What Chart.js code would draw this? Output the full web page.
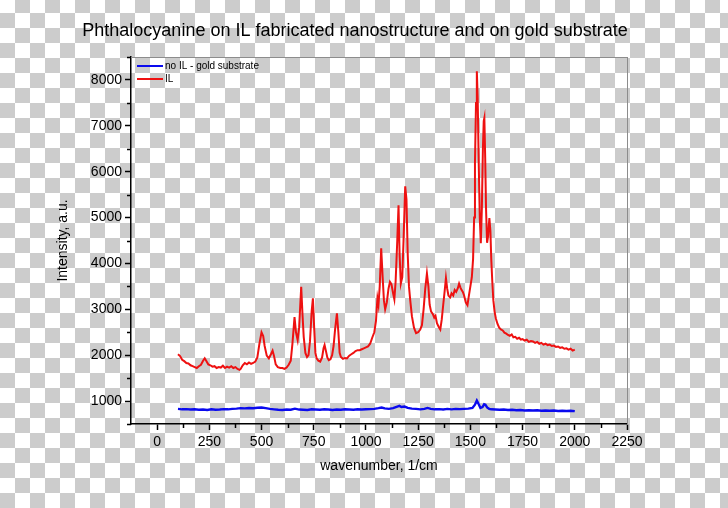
<!DOCTYPE html>
<html>
<head>
  <script src="https://cdn.jsdelivr.net/npm/chart.js@4.4.0/dist/chart.umd.min.js"></script>
  <style>
    body {
      margin: 0;
      background: conic-gradient(#cccccc 0 25%, #ffffff 0 50%, #cccccc 0 75%, #ffffff 0) 0 -2px / 30px 30px;
    }
    canvas { display: block; }
  </style>
</head>
<body>
  <canvas id="chart" width="728" height="508"></canvas>

  <script>
    // wavenumber (1/cm) and intensity for the IL sample
    var ilWave = [100, 110, 120, 130, 140, 150, 160, 170, 180, 190, 200, 210, 220, 228, 235, 245, 255, 265, 275, 285,
      295, 305, 315, 325, 335, 345, 355, 365, 375, 385, 395, 400, 410, 420, 430, 440, 450, 460, 470, 480,
      490, 500, 508, 515, 525, 535, 545, 553, 560, 568, 578, 590, 600, 610, 620, 630, 640, 648, 658, 665,
      673, 680, 690, 696, 702, 710, 718, 725, 732, 740, 746, 752, 758, 764, 772, 781, 790, 797, 802, 808,
      815, 822, 830, 838, 845, 852, 861, 868, 874, 880, 890, 900, 909, 920, 930, 940, 950, 960, 970, 980,
      990, 1000, 1010, 1020, 1030, 1040, 1048, 1055, 1060, 1066, 1073, 1080, 1086, 1092, 1100, 1108, 1115, 1122, 1130, 1136,
      1142, 1150, 1156, 1161, 1167, 1174, 1180, 1188, 1194, 1200, 1206, 1212, 1220, 1230, 1240, 1250, 1260, 1268, 1276, 1284,
      1292, 1299, 1305, 1312, 1320, 1327, 1333, 1340, 1348, 1356, 1363, 1370, 1377, 1383, 1389, 1395, 1403, 1410, 1418, 1425,
      1432, 1440, 1446, 1452, 1458, 1464, 1470, 1478, 1486, 1493, 1500, 1507, 1513, 1518, 1522, 1527, 1531, 1535, 1540, 1545,
      1550, 1555, 1560, 1564, 1567, 1571, 1575, 1580, 1585, 1591, 1596, 1600, 1605, 1610, 1616, 1622, 1630, 1638, 1646, 1655,
      1663, 1672, 1680, 1689, 1698, 1706, 1715, 1724, 1733, 1742, 1750, 1760, 1770, 1780, 1790, 1800, 1810, 1820, 1830, 1840,
      1850, 1860, 1870, 1880, 1890, 1900, 1910, 1920, 1930, 1940, 1950, 1960, 1970, 1980, 1990, 2000];
    var ilIntensity = [2020, 1980, 1900, 1870, 1830, 1820, 1780, 1760, 1740, 1720, 1760, 1790, 1880, 1930, 1880, 1800, 1780, 1750, 1760, 1720,
      1740, 1730, 1770, 1720, 1750, 1730, 1760, 1720, 1740, 1700, 1680, 1700, 1780, 1830, 1800, 1840, 1810, 1830, 1860, 1950,
      2250, 2500, 2420, 2200, 1990, 1930, 2020, 2100, 1980, 1800, 1740, 1720, 1720, 1700, 1730, 1790, 1880, 2250, 2830, 2500,
      2330, 2600, 3490, 2900, 2400, 2050, 1960, 2000, 2300, 2950, 3240, 2600, 2050, 1930, 1880, 1860, 1950, 2150, 2220, 2100,
      1950, 1890, 1910, 2000, 2200, 2550, 2910, 2500, 2050, 1960, 1920, 1940, 1930, 1990, 2020, 2050, 2090, 2110, 2110, 2130,
      2150, 2170, 2190, 2250, 2380, 2500, 2750, 3240, 3100, 3500, 4330, 3700, 3200, 3000, 3150, 3450, 3600, 3550, 3350, 3220,
      3600, 4500, 5270, 4200, 3560, 3700, 4500, 5680, 5400, 4200, 3500, 3200, 2850, 2600, 2480, 2500, 2560, 2650, 3000, 3450,
      3780, 3500, 3100, 2950, 2900, 2820, 2860, 2700, 2620, 2560, 2780, 3100, 3400, 3680, 3450, 3300, 3260, 3350, 3300, 3420,
      3380, 3460, 3560, 3480, 3420, 3380, 3300, 3150, 3090, 3300, 3500, 3700, 4100, 5000, 6200, 7500, 8190, 7600, 6200, 5000,
      4440, 5200, 6500, 7100, 7170, 6300, 5200, 4450, 4600, 4990, 4700, 4100, 3600, 3200, 2950, 2800, 2680, 2600, 2560, 2540,
      2490, 2470, 2440, 2420, 2450, 2390, 2400, 2360, 2380, 2340, 2350, 2320, 2340, 2290, 2310, 2300, 2270, 2290, 2250, 2270,
      2230, 2250, 2220, 2230, 2200, 2210, 2180, 2190, 2160, 2170, 2140, 2150, 2120, 2140, 2100, 2120];

    // wavenumber and intensity on the bare gold substrate
    var goldWave = [100, 120, 140, 160, 180, 200, 220, 240, 260, 280, 300, 320, 340, 360, 380, 400, 420, 440, 460, 480,
      500, 520, 540, 560, 580, 600, 620, 640, 660, 680, 700, 720, 740, 760, 780, 800, 820, 840, 860, 880,
      900, 920, 940, 960, 980, 1000, 1020, 1040, 1060, 1075, 1090, 1110, 1130, 1150, 1160, 1170, 1185, 1200, 1220, 1240,
      1260, 1280, 1295, 1310, 1330, 1350, 1370, 1390, 1410, 1430, 1450, 1470, 1490, 1510, 1522, 1531, 1540, 1548, 1558, 1566,
      1572, 1580, 1590, 1600, 1620, 1640, 1660, 1680, 1700, 1720, 1740, 1760, 1780, 1800, 1820, 1840, 1860, 1880, 1900, 1920,
      1940, 1960, 1980, 2000];
    var goldIntensity = [830, 820, 825, 815, 820, 810, 815, 805, 820, 810, 815, 825, 820, 830, 835, 845, 840, 850, 845, 855,
      860, 845, 830, 820, 810, 805, 815, 810, 835, 815, 810, 805, 820, 815, 810, 820, 815, 805, 815, 810,
      820, 815, 810, 820, 815, 820, 825, 830, 845, 860, 840, 830, 845, 880, 895, 870, 880, 850, 835, 830,
      820, 830, 850, 830, 820, 825, 815, 830, 820, 830, 825, 830, 835, 850, 920, 1010, 930, 850, 870, 930,
      920, 860, 830, 820, 815, 810, 815, 805, 810, 800, 805, 795, 800, 795, 800, 790, 795, 790, 795, 785,
      790, 785, 790, 780];

    var xTicks = [0, 250, 500, 750, 1000, 1250, 1500, 1750, 2000, 2250];
    var yTicks = [1000, 2000, 3000, 4000, 5000, 6000, 7000, 8000];
    var xMinor = [125, 375, 625, 875, 1125, 1375, 1625, 1875, 2125];
    var yMinor = [500, 1500, 2500, 3500, 4500, 5500, 6500, 7500, 8500];

    var fontFamily = "'Liberation Sans', Arial, sans-serif";

    function toPoints(xs, ys) {
      var pts = [];
      for (var i = 0; i < xs.length; i++) {
        pts.push({ x: xs[i], y: ys[i] });
      }
      return pts;
    }

    // short unlabeled ticks between the major ones
    var minorTicks = {
      id: 'minorTicks',
      afterDraw: function(chart) {
        var ctx = chart.ctx;
        var sx = chart.scales.x, sy = chart.scales.y, area = chart.chartArea;
        ctx.save();
        ctx.strokeStyle = '#000';
        ctx.lineWidth = 1.5;
        ctx.beginPath();
        xMinor.forEach(function(v) {
          var px = Math.round(sx.getPixelForValue(v)) + 0.5;
          ctx.moveTo(px, area.bottom);
          ctx.lineTo(px, area.bottom + 4);
        });
        yMinor.forEach(function(v) {
          var py = Math.round(sy.getPixelForValue(v)) + 0.5;
          ctx.moveTo(area.left, py);
          ctx.lineTo(area.left - 4, py);
        });
        ctx.stroke();
        ctx.restore();
      }
    };

    // legend sitting inside the top-left corner of the plot
    var insideLegend = {
      id: 'insideLegend',
      afterDraw: function(chart) {
        var ctx = chart.ctx, area = chart.chartArea;
        ctx.save();
        ctx.font = '10px ' + fontFamily;
        ctx.textBaseline = 'middle';
        ctx.fillStyle = '#000';
        chart.data.datasets.forEach(function(ds, i) {
          var y = area.top + 9 + i * 13;
          ctx.strokeStyle = ds.borderColor;
          ctx.lineWidth = 2;
          ctx.beginPath();
          ctx.moveTo(area.left + 6, y);
          ctx.lineTo(area.left + 32, y);
          ctx.stroke();
          ctx.fillText(ds.label, area.left + 34, y);
        });
        ctx.restore();
      }
    };

    function plainLabel(v) { return String(v); }

    var chart = new Chart(document.getElementById('chart'), {
      type: 'line',
      data: {
        datasets: [{
          label: 'no IL - gold substrate',
          data: toPoints(goldWave, goldIntensity),
          borderColor: '#0a0aee',
          backgroundColor: '#0a0aee',
          borderWidth: 2.4,
          pointRadius: 0
        }, {
          label: 'IL',
          data: toPoints(ilWave, ilIntensity),
          borderColor: '#ee1111',
          backgroundColor: '#ee1111',
          borderWidth: 2,
          pointRadius: 0
        }]
      },
      options: {
        responsive: false,
        animation: false,
        layout: { padding: { left: 0, right: 18, top: 0, bottom: 0 } },
        plugins: {
          title: {
            display: true,
            text: 'Phthalocyanine on IL fabricated nanostructure and on gold substrate',
            color: '#000',
            font: { family: fontFamily, size: 18, weight: 'normal' },
            padding: { top: 20.2, bottom: 15.2 }
          },
          legend: { display: false },
          tooltip: { enabled: false }
        },
        scales: {
          x: {
            type: 'linear',
            min: -125,
            max: 2250,
            afterBuildTicks: function(s) { s.ticks = xTicks.map(function(v) { return { value: v }; }); },
            afterFit: function(s) { s.height = 84; },
            grid: { drawOnChartArea: false, tickLength: 6, tickColor: '#000', tickWidth: 1.5 },
            border: { color: '#000', width: 1.5 },
            ticks: { color: '#000', font: { family: fontFamily, size: 14 }, padding: 4, maxRotation: 0, callback: plainLabel },
            title: {
              display: true, text: 'wavenumber, 1/cm', color: '#000',
              font: { family: fontFamily, size: 14 }, padding: { bottom: 33.6 }
            }
          },
          y: {
            type: 'linear',
            min: 500,
            max: 8500,
            afterBuildTicks: function(s) { s.ticks = yTicks.map(function(v) { return { value: v }; }); },
            afterFit: function(s) { s.width = 131; },
            grid: { drawOnChartArea: false, tickLength: 6, tickColor: '#000', tickWidth: 1.5 },
            border: { color: '#000', width: 1.5 },
            ticks: { color: '#000', font: { family: fontFamily, size: 14 }, padding: 3, callback: plainLabel },
            title: {
              display: true, text: 'Intensity, a.u.', color: '#000',
              font: { family: fontFamily, size: 14 }, padding: { top: 54.6 }
            }
          },
          x2: {
            type: 'linear',
            position: 'top',
            afterFit: function(s) { s.height = 0; },
            grid: { display: false },
            ticks: { display: false },
            border: { color: '#8c8c8c', width: 1 }
          },
          y2: {
            type: 'linear',
            position: 'right',
            afterFit: function(s) { s.width = 83; },
            grid: { display: false },
            ticks: { display: false },
            border: { color: '#8c8c8c', width: 1 }
          }
        }
      },
      plugins: [minorTicks, insideLegend]
    });
  </script>
</body>
</html>
